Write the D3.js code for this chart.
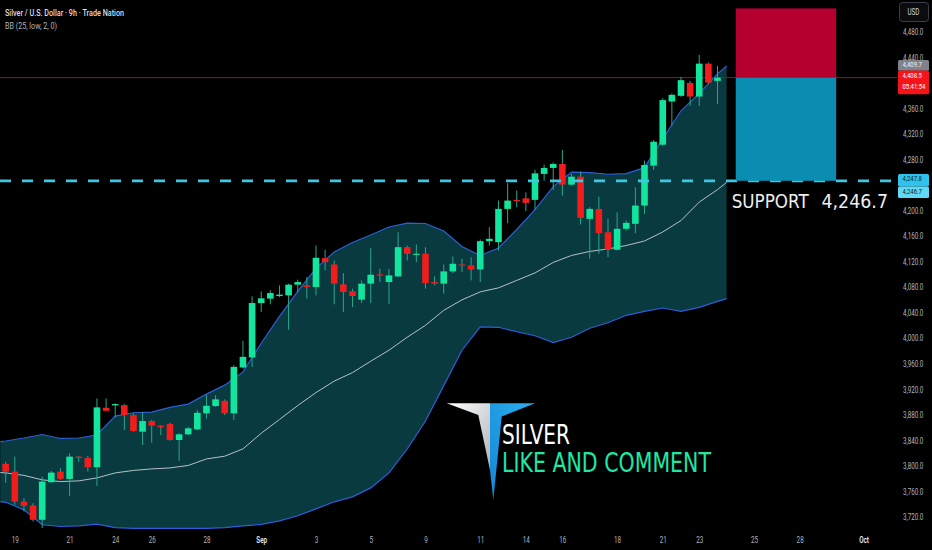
<!DOCTYPE html>
<html>
<head>
<meta charset="utf-8">
<title>Silver / U.S. Dollar 9h</title>
<script src="https://cdn.jsdelivr.net/npm/d3@7/dist/d3.min.js"></script>
<style>
  html, body { margin: 0; padding: 0; background: #000; }
  svg { display: block; }
</style>
</head>
<body>
<div id="chart"></div>
<script>
// 9h bars, index 0 = first visible bar (19 Aug)
const opens = [3802.9, 3790.8, 3743.9, 3737.7, 3715.3, 3774.3, 3790.8, 3779.4, 3814.3, 3812.3,
  3797.7, 3890.9, 3894.7, 3895.1, 3879.5, 3853.4, 3870.1, 3862.8, 3865.4, 3840.4,
  3849.3, 3857.1, 3882.2, 3893.6, 3901.9, 3882.2, 3954.1, 3969.7, 4055.1, 4062.0,
  4066.1, 4067.2, 4083.9, 4082.8, 4080.1, 4125.5, 4115.6, 4084.4, 4073.4, 4060.4,
  4085.5, 4100.0, 4088.0, 4096.9, 4142.7, 4130.8, 4132.4, 4088.0, 4085.5, 4104.7,
  4115.6, 4114.1, 4107.8, 4152.1, 4150.5, 4202.7, 4216.8, 4219.3, 4216.8, 4257.5,
  4266.9, 4273.1, 4240.7, 4253.2, 4187.1, 4202.7, 4166.1, 4138.6, 4171.5, 4179.3,
  4207.9, 4270.5, 4303.3, 4371.0, 4379.9, 4400.2, 4378.8, 4430.4, 4403.4];
const highs = [3806.5, 3814.3, 3749.2, 3741.4, 3783.0, 3791.9, 3796.1, 3819.6, 3815.4, 3815.4,
  3905.6, 3905.6, 3897.8, 3896.7, 3882.2, 3883.7, 3871.7, 3863.9, 3867.5, 3850.9,
  3861.2, 3887.3, 3910.8, 3910.8, 3904.1, 3957.7, 3995.7, 4065.6, 4073.4, 4075.0,
  4082.8, 4085.5, 4091.7, 4095.8, 4145.3, 4138.6, 4121.9, 4102.0, 4077.6, 4090.6,
  4141.1, 4108.9, 4108.9, 4166.1, 4145.3, 4146.9, 4142.7, 4096.9, 4115.6, 4128.1,
  4124.5, 4127.0, 4154.7, 4174.0, 4215.7, 4242.8, 4231.4, 4228.7, 4263.7, 4272.0,
  4275.6, 4295.0, 4257.5, 4261.5, 4205.2, 4222.0, 4187.1, 4197.4, 4184.4, 4236.5,
  4278.3, 4310.6, 4376.3, 4383.5, 4409.6, 4403.4, 4444.0, 4432.0, 4426.8];
const lows = [3773.2, 3738.8, 3728.3, 3712.6, 3702.3, 3773.2, 3777.9, 3752.8, 3806.0, 3790.8,
  3768.5, 3885.5, 3875.9, 3856.0, 3853.4, 3832.6, 3836.2, 3848.2, 3839.3, 3807.6,
  3848.2, 3856.0, 3874.3, 3892.5, 3879.5, 3871.7, 3952.5, 3955.0, 4041.0, 4053.1,
  4064.5, 4013.5, 4072.3, 4062.0, 4067.2, 4106.3, 4053.1, 4041.0, 4048.9, 4055.1,
  4055.1, 4088.0, 4053.1, 4095.8, 4121.9, 4119.2, 4077.6, 4082.8, 4069.8, 4102.0,
  4103.6, 4090.6, 4088.0, 4145.3, 4137.5, 4180.2, 4205.2, 4199.0, 4201.2, 4247.0,
  4232.5, 4223.5, 4239.2, 4178.2, 4124.5, 4132.4, 4127.0, 4137.5, 4168.8, 4164.6,
  4194.9, 4263.7, 4301.7, 4333.0, 4378.4, 4364.3, 4364.3, 4398.2, 4366.9];
const closes = [3790.8, 3743.9, 3737.2, 3715.3, 3775.2, 3789.3, 3779.4, 3814.3, 3812.3, 3797.7,
  3891.5, 3886.2, 3896.7, 3879.5, 3854.5, 3870.1, 3862.8, 3860.3, 3840.4, 3849.3,
  3858.7, 3883.1, 3894.0, 3904.1, 3882.2, 3955.0, 3970.7, 4055.1, 4062.5, 4070.8,
  4068.3, 4083.9, 4088.0, 4080.1, 4126.1, 4119.2, 4085.5, 4072.3, 4066.1, 4085.5,
  4099.5, 4098.4, 4098.4, 4142.7, 4132.4, 4132.4, 4086.4, 4085.5, 4104.7, 4116.7,
  4114.1, 4107.8, 4152.1, 4155.8, 4202.7, 4215.7, 4215.3, 4212.1, 4258.4, 4266.9,
  4273.1, 4240.7, 4253.2, 4188.7, 4202.7, 4164.6, 4138.6, 4171.5, 4180.8, 4207.9,
  4271.5, 4308.0, 4373.2, 4381.5, 4404.5, 4378.8, 4430.4, 4400.7, 4408.5];

// BB (25, low, 2, 0) every second bar (plus left edge and last point)
const bandIdx = [-0.6, ...d3.range(0, 79, 2), 79];
const bbUpper = [3837.7, 3838.8, 3843.5, 3849.0, 3842.8, 3843.5, 3848.2, 3877.9, 3883.1, 3884.2, 3891.5,
  3896.7, 3912.3, 3926.4, 3947.2, 3992.1, 4034.3, 4073.4, 4109.4, 4135.2, 4150.0,
  4161.8, 4174.3, 4180.5, 4179.8, 4168.0, 4143.8, 4129.7, 4141.4, 4170.4, 4201.6,
  4237.6, 4260.3, 4259.5, 4257.0, 4257.9, 4267.3, 4312.7, 4356.5, 4383.8, 4414.3, 4426.8];
const bbMid = [3789.3, 3788.8, 3784.9, 3777.9, 3775.2, 3776.3, 3781.0, 3788.8, 3792.7, 3795.1, 3796.6,
  3800.5, 3810.7, 3815.0, 3826.5, 3851.0, 3872.5, 3894.4, 3914.7, 3932.7, 3946.0,
  3963.9, 3981.1, 4001.5, 4020.2, 4043.7, 4060.1, 4072.6, 4078.9, 4090.6, 4102.3,
  4118.8, 4129.7, 4136.0, 4139.9, 4145.3, 4152.4, 4166.5, 4184.4, 4213.4, 4232.9, 4244.3];
const bbLower = [3743.7, 3742.7, 3730.9, 3707.5, 3704.8, 3705.9, 3708.6, 3703.0, 3702.0, 3702.0, 3702.0,
  3702.0, 3702.0, 3703.0, 3705.9, 3708.0, 3713.7, 3721.6, 3732.5, 3743.5, 3751.3,
  3765.3, 3788.8, 3826.3, 3870.1, 3925.6, 3981.1, 4017.6, 4017.1, 4010.1, 4003.8,
  3993.2, 4001.5, 4015.6, 4024.2, 4035.9, 4042.1, 4047.3, 4042.1, 4048.4, 4057.8, 4062.0];

const priceTicks = [3720, 3760, 3800, 3840, 3880, 3920, 3960, 4000, 4040, 4080, 4120,
  4160, 4200, 4240, 4280, 4320, 4360, 4400, 4440, 4480];
const dateTicks = [1, 7, 12, 16, 22, 28, 34, 40, 46, 52, 57, 61, 67, 72, 76, 82, 87, 94];
const dateLabels = ["19", "21", "24", "26", "28", "Sep", "3", "5", "9", "11", "14", "16",
  "18", "21", "23", "25", "28", "Oct"];

const lastPrice = 4408.5;
const prevTag = 4409.7;
const countdown = "05:41:54";
const supportLevel = 4246.7;
const supportTag = 4247.8;
const boxTop = 4517;
const boxFrom = 80, boxTo = 91;   // bar indices of the position box

const W = 932, H = 550;
const paneW = 897, paneH = 529;
const upCol = "#12e69e", downCol = "#f21c1c", wickCol = "#27a88c";
const font = "Roboto, 'Noto Sans', sans-serif";
const fmt = d3.format(",.1f");

const svg = d3.select("#chart").append("svg")
  .attr("width", W).attr("height", H)
  .style("background", "#000");

const x = d3.scaleLinear().domain([0, 78]).range([5.7, 717.5]);
const y = d3.scaleLinear().domain([3720, 4480]).range([516.8, 32]);
const bodyW = 6.6;

// text in the reference is narrow, squeeze the glyphs horizontally
function squeeze(sel, k) {
  sel.each(function () {
    const len = this.getComputedTextLength();
    d3.select(this).attr("textLength", len * k).attr("lengthAdjust", "spacingAndGlyphs");
  });
}

const defs = svg.append("defs");
defs.append("clipPath").attr("id", "pane")
  .append("rect").attr("width", paneW).attr("height", paneH);

const pane = svg.append("g").attr("clip-path", "url(#pane)");

// bollinger bands
const bands = bandIdx.map((i, k) => ({i, up: bbUpper[k], mid: bbMid[k], lo: bbLower[k]}));

pane.append("path").datum(bands)
  .attr("d", d3.area().x(d => x(d.i)).y0(d => y(d.lo)).y1(d => y(d.up)))
  .attr("fill", "#083a40");

pane.append("path").datum(bands)
  .attr("d", d3.line().x(d => x(d.i)).y(d => y(d.mid)))
  .attr("fill", "none").attr("stroke", "#b4c2c6").attr("stroke-width", 1);

["up", "lo"].forEach(k => {
  pane.append("path").datum(bands)
    .attr("d", d3.line().x(d => x(d.i)).y(d => y(d[k])))
    .attr("fill", "none").attr("stroke", "#2d5fd8").attr("stroke-width", 1.2);
});

// last price line
pane.append("line")
  .attr("x1", 0).attr("x2", paneW)
  .attr("y1", y(lastPrice)).attr("y2", y(lastPrice))
  .attr("stroke", "#8c1a1a").attr("stroke-width", 1);

// candles
const bars = opens.map((o, i) => ({i, o, h: highs[i], l: lows[i], c: closes[i]}));

const barG = pane.selectAll(".bar").data(bars).join("g").attr("class", "bar");

barG.append("line")
  .attr("x1", d => x(d.i)).attr("x2", d => x(d.i))
  .attr("y1", d => y(d.h)).attr("y2", d => y(d.l))
  .attr("stroke", wickCol).attr("stroke-width", 1);

barG.append("rect")
  .attr("x", d => x(d.i) - bodyW / 2)
  .attr("width", bodyW)
  .attr("y", d => y(Math.max(d.o, d.c)))
  .attr("height", d => Math.max(1.2, Math.abs(y(d.o) - y(d.c))))
  .attr("fill", d => d.c >= d.o ? upCol : downCol);

// support line
pane.append("line")
  .attr("x1", 0).attr("x2", paneW)
  .attr("y1", y(supportLevel)).attr("y2", y(supportLevel))
  .attr("stroke", "#3fc6e2").attr("stroke-width", 2.7)
  .attr("stroke-dasharray", "11,11");

// position box
pane.append("rect")
  .attr("x", x(boxFrom)).attr("width", x(boxTo) - x(boxFrom))
  .attr("y", y(boxTop)).attr("height", y(lastPrice) - y(boxTop))
  .attr("fill", "#b5002f");
pane.append("rect")
  .attr("x", x(boxFrom)).attr("width", x(boxTo) - x(boxFrom))
  .attr("y", y(lastPrice)).attr("height", y(supportLevel) - y(lastPrice))
  .attr("fill", "#0a8db0");

// support label
const supY = y(supportLevel) + 27;
svg.append("text").attr("x", 731.7).attr("y", supY)
  .attr("font-family", "'DejaVu Sans', sans-serif").attr("font-size", 20)
  .attr("fill", "#eeeeee").attr("textLength", 77).attr("lengthAdjust", "spacingAndGlyphs")
  .text("SUPPORT");
svg.append("text").attr("x", 821.5).attr("y", supY)
  .attr("font-family", "'DejaVu Sans', sans-serif").attr("font-size", 20)
  .attr("fill", "#eeeeee").attr("textLength", 66.5).attr("lengthAdjust", "spacingAndGlyphs")
  .text(fmt(supportLevel));

// logo
const gWhite = defs.append("linearGradient").attr("id", "gWhite")
  .attr("x1", 0).attr("y1", 0).attr("x2", 1).attr("y2", 1);
gWhite.append("stop").attr("offset", "0%").attr("stop-color", "#ffffff");
gWhite.append("stop").attr("offset", "100%").attr("stop-color", "#aeb4ba");
const gBlue = defs.append("linearGradient").attr("id", "gBlue")
  .attr("x1", 1).attr("y1", 0).attr("x2", 0).attr("y2", 1);
gBlue.append("stop").attr("offset", "0%").attr("stop-color", "#2bb0f0");
gBlue.append("stop").attr("offset", "100%").attr("stop-color", "#1487d6");

const logo = svg.append("g");
logo.append("polygon")
  .attr("points", [[446.7, 403.3], [490, 403.3], [490, 470], [478.3, 415]].join(" "))
  .attr("fill", "url(#gWhite)");
logo.append("polygon")
  .attr("points", [[490, 403.3], [535, 403.3], [501.7, 416.5], [493.3, 500], [490, 470]].join(" "))
  .attr("fill", "url(#gBlue)");
logo.append("text").attr("x", 502).attr("y", 443.5)
  .attr("font-family", "'DejaVu Sans', sans-serif").attr("font-size", 27)
  .attr("fill", "#ffffff").attr("textLength", 68).attr("lengthAdjust", "spacingAndGlyphs")
  .text("SILVER");
logo.append("text").attr("x", 502).attr("y", 472)
  .attr("font-family", "'DejaVu Sans', sans-serif").attr("font-size", 27)
  .attr("fill", "#1ee8a4").attr("textLength", 209).attr("lengthAdjust", "spacingAndGlyphs")
  .text("LIKE AND COMMENT");

// legend
svg.append("text").attr("x", 5).attr("y", 15.5)
  .attr("font-family", font).attr("font-size", 9.5).attr("font-weight", 500)
  .attr("fill", "#dadde4").attr("textLength", 119).attr("lengthAdjust", "spacingAndGlyphs")
  .text("Silver / U.S. Dollar · 9h · Trade Nation");
svg.append("text").attr("x", 5).attr("y", 28.5)
  .attr("font-family", font).attr("font-size", 9)
  .attr("fill", "#b2b5be").attr("textLength", 52).attr("lengthAdjust", "spacingAndGlyphs")
  .text("BB (25, low, 2, 0)");

// price axis; levels sitting under a price tag are covered, as on the chart
const yl = y(lastPrice), ys = y(supportTag);
const shownTicks = priceTicks.filter(p => Math.abs(y(p) - yl) > 10 && Math.abs(y(p) - ys) > 10);

const yAxis = d3.axisRight(y)
  .tickValues(shownTicks)
  .tickFormat(fmt)
  .tickSize(0).tickPadding(0);

const ay = svg.append("g")
  .attr("transform", "translate(903,0)")
  .call(yAxis)
  .attr("font-family", font).attr("font-size", 8.2);
ay.select(".domain").remove();
ay.selectAll("text").attr("fill", "#b2b5be").attr("x", 0).attr("dy", "0.34em");
squeeze(ay.selectAll("text"), 0.76);

// time axis
const labelOf = new Map(dateTicks.map((t, k) => [t, dateLabels[k]]));
const xAxis = d3.axisBottom(x)
  .tickValues(dateTicks)
  .tickFormat(d => labelOf.get(d))
  .tickSize(0).tickPadding(0);

const ax = svg.append("g")
  .attr("transform", "translate(0,540)")
  .call(xAxis)
  .attr("font-family", font).attr("font-size", 8.4);
ax.select(".domain").remove();
ax.selectAll("text")
  .attr("y", 0).attr("dy", "0.35em")
  .attr("fill", d => /^[A-Z]/.test(labelOf.get(d)) ? "#e6e8ec" : "#b2b5be")
  .attr("font-weight", d => /^[A-Z]/.test(labelOf.get(d)) ? 600 : 400);
squeeze(ax.selectAll("text"), 0.75);

// axis tags
function tag(top, h, fill, color, lines) {
  const g = svg.append("g");
  g.append("rect").attr("x", 898).attr("y", top).attr("width", 31).attr("height", h)
    .attr("rx", 1.5).attr("fill", fill);
  lines.forEach((s, k) => {
    const t = g.append("text").attr("x", 902.5).attr("y", top + 7.2 + k * 10.8)
      .attr("font-family", font).attr("font-size", 7.6).attr("fill", color).text(s);
    squeeze(t, 0.78);
  });
}
tag(yl - 17.6, 10.7, "#80838c", "#f0f0f0", [fmt(prevTag)]);
tag(yl - 7, 23.6, "#f5141a", "#ffffff", [fmt(lastPrice), countdown]);
tag(ys - 6, 12.4, "#2ec2ec", "#0a2430", [fmt(supportTag)]);
tag(ys + 6.4, 11.6, "#5fd9f4", "#0a2430", [fmt(supportLevel)]);

// currency button
svg.append("rect").attr("x", 899.5).attr("y", 2.5).attr("width", 29).attr("height", 19)
  .attr("rx", 3).attr("fill", "#0b0c10").attr("stroke", "#3a3e48");
const usd = svg.append("text").attr("x", 913.5).attr("y", 15)
  .attr("text-anchor", "middle")
  .attr("font-family", font).attr("font-size", 8.2).attr("fill", "#d1d4dc").text("USD");
squeeze(usd, 0.76);
</script>
</body>
</html>
